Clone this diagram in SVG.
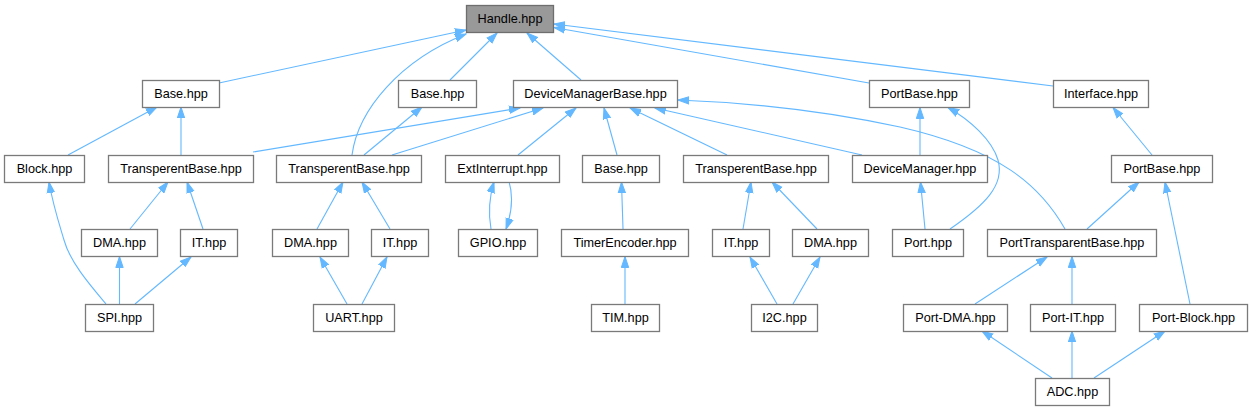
<svg xmlns="http://www.w3.org/2000/svg" width="1252" height="411" viewBox="0 0 1252 411">
<defs>
<style>
.n rect{fill:#ffffff;stroke:#7a7a7a;stroke-width:1.3}
.n text{font-family:"Liberation Sans",Arial,sans-serif;font-size:12.7px;fill:#000;text-anchor:middle}
#handle rect{fill:#999999;stroke:#6e6e6e}
.e path{fill:none;stroke:#63b8ff;stroke-width:1.1;marker-end:url(#a)}
</style>
<marker id="a" markerWidth="12" markerHeight="9" refX="11" refY="4.5" orient="auto" markerUnits="userSpaceOnUse">
<path d="M0,0.8 L11,4.5 L0,8.2z" fill="#63b8ff" stroke="#63b8ff" stroke-width="1"/>
</marker>
</defs>
<rect width="1252" height="411" fill="#ffffff"/>
<g id="edges" class="e">
<path d="M219,83 L466,30"/>
<path d="M352,155 C358,110 400,60 466,34"/>
<path d="M450,80 L497,33"/>
<path d="M581,80 L527,33"/>
<path d="M869,83 L554,27.5"/>
<path d="M1053,86 L554,24"/>
<path d="M253,152 L520,108"/>
<path d="M392,155 L543,108"/>
<path d="M518,155 L576,108"/>
<path d="M617,155 L604,108"/>
<path d="M727,155 L630,108"/>
<path d="M862,155 L655,108"/>
<path d="M1065,229 C1040,185 1000,150 900,127 C830,112 760,103 678,100"/>
<path d="M364,155 L422,107"/>
<path d="M68,155 L157,107"/>
<path d="M181,155 L181,107"/>
<path d="M130,229 L168,182"/>
<path d="M203,229 L187,182"/>
<path d="M106,304 C90,285 70,262 64,240 C58,220 53,205 49,182"/>
<path d="M119.5,304 L119.5,256.5"/>
<path d="M135,304 L191,257"/>
<path d="M317,229 L343,182"/>
<path d="M390,229 L362,182"/>
<path d="M347,304 L320,257"/>
<path d="M362,304 L387,257"/>
<path d="M491,229 C488,212 489,198 494,182"/>
<path d="M509,181.5 C513,195 512,212 506,229"/>
<path d="M623,229 L621.5,182"/>
<path d="M625,304 L625,256.5"/>
<path d="M743,229 L751,182"/>
<path d="M817,229 L772,182"/>
<path d="M777,304 L750,257"/>
<path d="M793,304 L820,257"/>
<path d="M920,155 L920,107.5"/>
<path d="M925,229 L920.5,182"/>
<path d="M950,229 C985,205 1005,185 998,160 C992,140 970,120 948,107.5"/>
<path d="M1152,155 L1113,107.5"/>
<path d="M1087,229 L1139,182"/>
<path d="M975,304 L1047,257"/>
<path d="M1072,304 L1072,256.5"/>
<path d="M1190,304 L1165,182"/>
<path d="M1052,378 L982,331"/>
<path d="M1072,378 L1072,331"/>
<path d="M1094,378 L1165,331"/>
</g>
<g id="handle" class="n"><rect x="466.5" y="5.5" width="87" height="27"/><text x="510" y="23">Handle.hpp</text></g>
<g id="base1" class="n"><rect x="142.5" y="80.5" width="77" height="27"/><text x="181" y="98">Base.hpp</text></g>
<g id="base2" class="n"><rect x="398.5" y="80.5" width="78" height="27"/><text x="437.5" y="98">Base.hpp</text></g>
<g id="dmb" class="n"><rect x="513.5" y="80.5" width="164" height="27"/><text x="595.5" y="98">DeviceManagerBase.hpp</text></g>
<g id="portbase1" class="n"><rect x="869.5" y="80.5" width="100" height="27"/><text x="919.5" y="98">PortBase.hpp</text></g>
<g id="interface" class="n"><rect x="1053.5" y="80.5" width="95" height="27"/><text x="1101" y="98">Interface.hpp</text></g>
<g id="block" class="n"><rect x="4.5" y="155.5" width="80" height="27"/><text x="44.5" y="173">Block.hpp</text></g>
<g id="tb1" class="n"><rect x="108.5" y="155.5" width="145" height="27"/><text x="181" y="173">TransperentBase.hpp</text></g>
<g id="tb2" class="n"><rect x="276.5" y="155.5" width="145" height="27"/><text x="349" y="173">TransperentBase.hpp</text></g>
<g id="extint" class="n"><rect x="445.5" y="155.5" width="114" height="27"/><text x="502.5" y="173">ExtInterrupt.hpp</text></g>
<g id="base3" class="n"><rect x="582.5" y="155.5" width="77" height="27"/><text x="621" y="173">Base.hpp</text></g>
<g id="tb3" class="n"><rect x="683.5" y="155.5" width="145" height="27"/><text x="756" y="173">TransperentBase.hpp</text></g>
<g id="devmgr" class="n"><rect x="852.5" y="155.5" width="135" height="27"/><text x="920" y="173">DeviceManager.hpp</text></g>
<g id="portbase2" class="n"><rect x="1111.5" y="155.5" width="101" height="27"/><text x="1162" y="173">PortBase.hpp</text></g>
<g id="dma1" class="n"><rect x="81.5" y="229.5" width="76" height="27"/><text x="119.5" y="247">DMA.hpp</text></g>
<g id="it1" class="n"><rect x="180.5" y="229.5" width="57" height="27"/><text x="209" y="247">IT.hpp</text></g>
<g id="dma2" class="n"><rect x="272.5" y="229.5" width="76" height="27"/><text x="310.5" y="247">DMA.hpp</text></g>
<g id="it2" class="n"><rect x="371.5" y="229.5" width="57" height="27"/><text x="400" y="247">IT.hpp</text></g>
<g id="gpio" class="n"><rect x="458.5" y="229.5" width="79" height="27"/><text x="498" y="247">GPIO.hpp</text></g>
<g id="timerenc" class="n"><rect x="561.5" y="229.5" width="127" height="27"/><text x="625" y="247">TimerEncoder.hpp</text></g>
<g id="it3" class="n"><rect x="712.5" y="229.5" width="57" height="27"/><text x="741" y="247">IT.hpp</text></g>
<g id="dma3" class="n"><rect x="792.5" y="229.5" width="76" height="27"/><text x="830.5" y="247">DMA.hpp</text></g>
<g id="port" class="n"><rect x="892.5" y="229.5" width="71" height="27"/><text x="928" y="247">Port.hpp</text></g>
<g id="ptb" class="n"><rect x="987.5" y="229.5" width="169" height="27"/><text x="1072" y="247">PortTransparentBase.hpp</text></g>
<g id="spi" class="n"><rect x="85.5" y="304.5" width="68" height="27"/><text x="119.5" y="322">SPI.hpp</text></g>
<g id="uart" class="n"><rect x="313.5" y="304.5" width="81" height="27"/><text x="354" y="322">UART.hpp</text></g>
<g id="tim" class="n"><rect x="591.5" y="304.5" width="68" height="27"/><text x="625.5" y="322">TIM.hpp</text></g>
<g id="i2c" class="n"><rect x="751.5" y="304.5" width="66" height="27"/><text x="784.5" y="322">I2C.hpp</text></g>
<g id="portdma" class="n"><rect x="903.5" y="304.5" width="104" height="27"/><text x="955.5" y="322">Port-DMA.hpp</text></g>
<g id="portit" class="n"><rect x="1030.5" y="304.5" width="85" height="27"/><text x="1073" y="322">Port-IT.hpp</text></g>
<g id="portblock" class="n"><rect x="1139.5" y="304.5" width="108" height="27"/><text x="1193.5" y="322">Port-Block.hpp</text></g>
<g id="adc" class="n"><rect x="1035.5" y="378.5" width="74" height="27"/><text x="1072.5" y="396">ADC.hpp</text></g>
</svg>
